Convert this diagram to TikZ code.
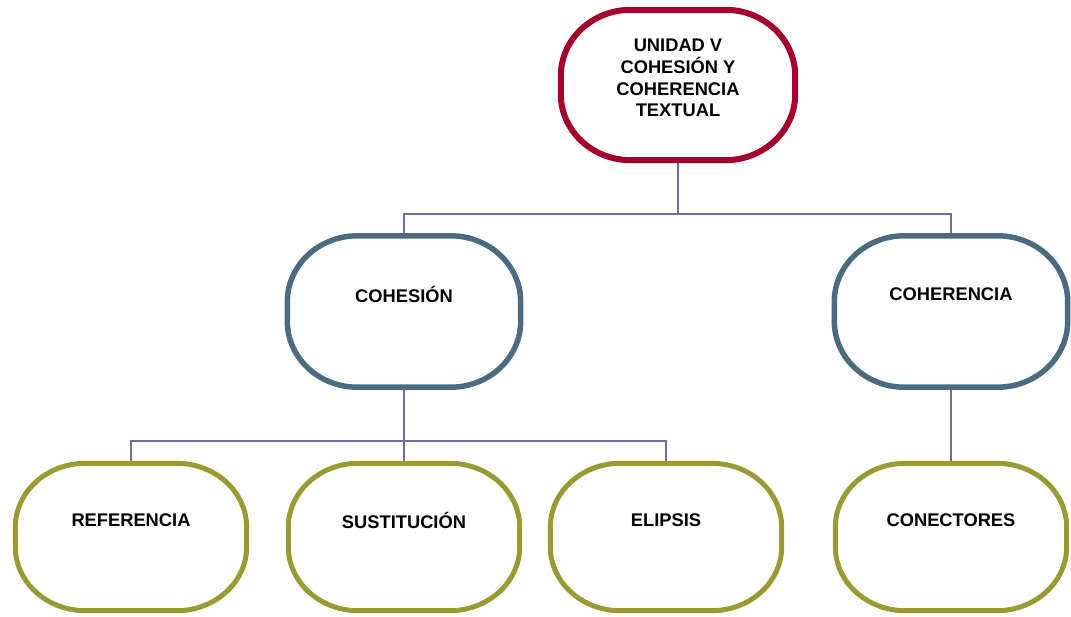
\documentclass[tikz,border=0pt]{standalone}
\usepackage{fontspec}
\setmainfont{Liberation Sans}
\usetikzlibrary{calc}
\definecolor{topred}{HTML}{A3002B}
\definecolor{midblue}{HTML}{4A6B80}
\definecolor{botolive}{HTML}{9A9A32}
\definecolor{connc}{HTML}{6E6AA6}
\tikzset{
  box/.style={rectangle, inner sep=0pt},
  topbox/.style={box, minimum width=234pt, minimum height=150pt},
  midbox/.style={box, minimum width=233pt, minimum height=151pt},
  botbox/.style={box, minimum width=231pt, minimum height=147pt},
  lbl/.style={font=\fontsize{18.3}{21.6}\selectfont\bfseries, align=center, inner sep=0pt},
  conn/.style={draw=connc, line width=1.6pt},
  topline/.style={draw=topred, fill=white, line width=6pt},
  midline/.style={draw=midblue, fill=white, line width=5.5pt},
  botline/.style={draw=botolive, fill=white, line width=5pt},
}
% rounded outline around a named node with elliptical corners:
% #1 style, #2 node, #3 corner x radius, #4 corner y radius
\newcommand\roundoutline[4]{%
  \path[#1] ($(#2.north west)+(#3,0)$)
    -- ($(#2.north east)+(-#3,0)$)
    arc[start angle=-90, end angle=0, x radius=#3, y radius=#4]
    -- ($(#2.south east)+(0,-#4)$)
    arc[start angle=0, end angle=90, x radius=#3, y radius=#4]
    -- ($(#2.south west)+(#3,0)$)
    arc[start angle=90, end angle=180, x radius=#3, y radius=#4]
    -- ($(#2.north west)+(0,#4)$)
    arc[start angle=180, end angle=270, x radius=#3, y radius=#4]
    -- cycle;}
\begin{document}
\begin{tikzpicture}[x=1pt, y=-1pt]
\useasboundingbox (0,0) rectangle (1071,616);
% node frames
\node[topbox] (top) at (678,85) {};
\node[midbox] (cohesion) at (404,311.5) {};
\node[midbox] (coherencia) at (951,311.5) {};
\node[botbox] (referencia) at (131,537) {};
\node[botbox] (sustitucion) at (404,537) {};
\node[botbox] (elipsis) at (666,537) {};
\node[botbox] (conectores) at (951,537) {};
% connectors
\coordinate (bus1) at (678,214);
\coordinate (bus2) at (404,441);
\draw[conn] (top.south) -- (bus1);
\draw[conn] (cohesion.north) |- (bus1);
\draw[conn] (coherencia.north) |- (bus1);
\draw[conn] (cohesion.south) -- (bus2);
\draw[conn] (referencia.north) |- (bus2);
\draw[conn] (sustitucion.north) -- (bus2);
\draw[conn] (elipsis.north) |- (bus2);
\draw[conn] (coherencia.south) -- (conectores.north);
% outlines
\roundoutline{topline}{top}{70}{66}
\roundoutline{midline}{cohesion}{70}{66}
\roundoutline{midline}{coherencia}{70}{66}
\roundoutline{botline}{referencia}{70}{64}
\roundoutline{botline}{sustitucion}{70}{64}
\roundoutline{botline}{elipsis}{70}{64}
\roundoutline{botline}{conectores}{70}{64}
% labels
\node[lbl] (top-t) at (678,78) {UNIDAD V\\COHESIÓN Y\\COHERENCIA\\TEXTUAL};
\node[lbl] (cohesion-t) at (404,294) {COHESIÓN};
\node[lbl] (coherencia-t) at (951,294) {COHERENCIA};
\node[lbl] (referencia-t) at (131,520) {REFERENCIA};
\node[lbl] (sustitucion-t) at (404,520) {SUSTITUCIÓN};
\node[lbl] (elipsis-t) at (666,520) {ELIPSIS};
\node[lbl] (conectores-t) at (951,520) {CONECTORES};
\end{tikzpicture}
\end{document}
